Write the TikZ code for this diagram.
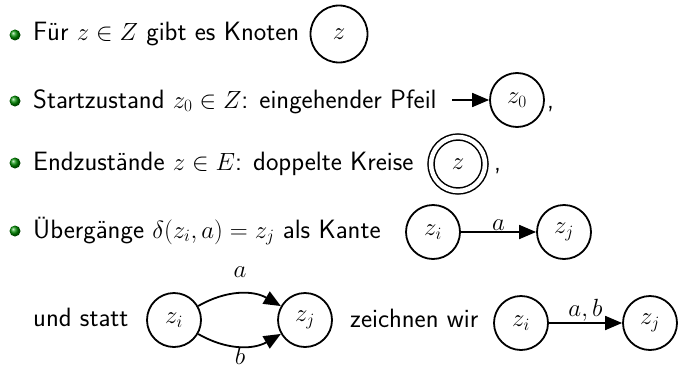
\documentclass[tikz,border=0pt]{standalone}
\usetikzlibrary{arrows.meta}
\begin{document}
\begin{tikzpicture}[x=1pt,y=-1pt,
  txt/.style={anchor=base west,inner sep=0pt,font=\sffamily\fontsize{26.5}{31}\selectfont},
  lbl/.style={inner sep=2pt,font=\fontsize{26.5}{31}\selectfont},
  bul/.style={ball color=green!55!black},
  state/.style={circle,draw,line width=1.8pt,minimum size=54pt,inner sep=0pt,font=\fontsize{26.5}{31}\selectfont},
  final/.style={state,double,double distance=4.5pt,line width=1.5pt},
  edge/.style={line width=1.8pt,-{Triangle[length=17pt,width=14pt]}}
  ]
\useasboundingbox (0,0) rectangle (684,369);
% line 1
\shade[bul] (15,35) circle (5.5);
\node[txt] (t1) at (33,41) {Für $z \in Z$ gibt es Knoten};
\node[state,minimum size=57pt] (s1) at (339,34) {$z$};
% line 2
\shade[bul] (15,101) circle (5.5);
\node[txt] (t2) at (33,108) {Startzustand $z_0 \in Z$: eingehender Pfeil};
\coordinate (i0) at (452,100);
\node[state] (s0) at (517,100) {$z_0$};
\node[txt] (c2) at (547,108) {,};
\draw[edge] (i0) -- (s0);
% line 3
\shade[bul] (15,163) circle (5.5);
\node[txt] (t3) at (33,170) {Endzustände $z \in E$: doppelte Kreise};
\node[final] (sf) at (458,164) {$z$};
\node[txt] (c3) at (494,170) {,};
% line 4
\shade[bul] (15,231) circle (5.5);
\node[txt] (t4) at (33,238) {Übergänge $\delta(z_i,a)=z_j$ als Kante};
\node[state] (a1) at (433,232) {$z_i$};
\node[state] (b1) at (564,232) {$z_j$};
\draw[edge] (a1) -- node[lbl,above,yshift=-1pt] {$a$} (b1);
% line 5
\node[txt] (t5) at (33,326) {und statt};
\node[state] (a2) at (174,320) {$z_i$};
\node[state] (b2) at (305,320) {$z_j$};
\draw[edge] (a2) to[bend left=30] (b2);
\draw[edge] (a2) to[bend right=30] (b2);
\node[lbl] (la) at (240,272) {$a$};
\node[lbl] (lb) at (240,356) {$b$};
\node[txt] (t6) at (350,327) {zeichnen wir};
\node[state] (a3) at (521,323) {$z_i$};
\node[state] (b3) at (650,323) {$z_j$};
\draw[edge] (a3) -- node[lbl,above,yshift=-1pt] {$a,b$} (b3);
\end{tikzpicture}
\end{document}
